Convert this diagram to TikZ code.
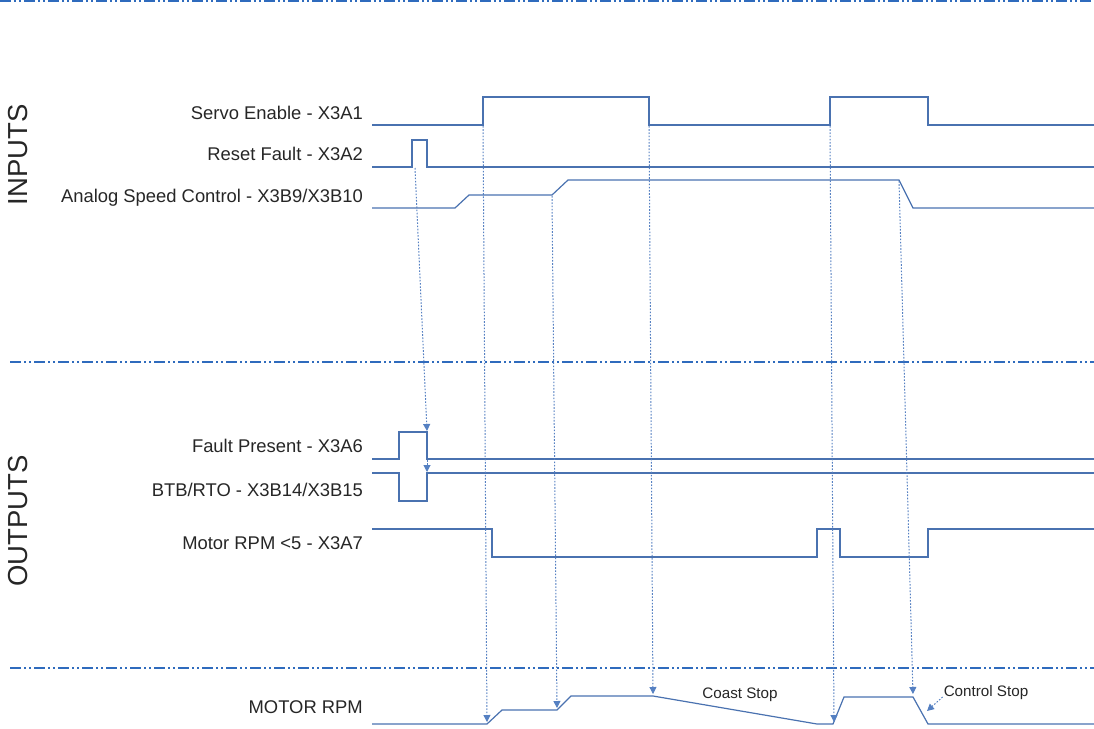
\documentclass[tikz,border=0pt]{standalone}
\usepackage{fontspec}
\setmainfont{Liberation Sans}
\usetikzlibrary{arrows.meta}
\definecolor{sig}{HTML}{4A72B0}
\definecolor{sep}{HTML}{2F6BBD}
\definecolor{dot}{HTML}{5580C2}
\tikzset{
  signal/.style={draw=sig, line width=1.2pt, line join=miter},
  sepline/.style={draw=sep, line width=1.3pt, dash pattern=on 11pt off 3pt on 2pt off 3pt on 2pt off 3pt},
  causal/.style={draw=dot, line width=1pt, dash pattern=on 1.6pt off 1.6pt, -{Triangle[width=7pt,length=7pt]}},
  lbl/.style={anchor=base east, inner sep=0pt, font=\fontsize{18.4}{22}\selectfont, text=black!85},
  grp/.style={rotate=90, inner sep=0pt, font=\fontsize{27.5}{32}\selectfont, text=black!85},
  note/.style={inner sep=0pt, font=\fontsize{15.2}{18}\selectfont, text=black!85},
}
\begin{document}
\begin{tikzpicture}[x=1pt,y=-1pt]
\useasboundingbox (0,0) rectangle (1094,728);
% separators
\draw[sepline] (0,1) -- (1094,1);
\draw[sepline] (10,362) -- (1094,362);
\draw[sepline] (10,668) -- (1094,668);
% group labels
\node[grp] (inputs) at (18,155) {INPUTS};
\node[grp] (outputs) at (18,521) {OUTPUTS};
% signal labels
\node[lbl] (lservo) at (363,119) {Servo Enable - X3A1};
\node[lbl] (lreset) at (363,160) {Reset Fault - X3A2};
\node[lbl] (lanalog) at (363,202) {Analog Speed Control - X3B9/X3B10};
\node[lbl] (lfault) at (363,452) {Fault Present - X3A6};
\node[lbl] (lbtb) at (363,496) {BTB/RTO - X3B14/X3B15};
\node[lbl] (lrpm5) at (363,549) {Motor RPM <5 - X3A7};
\node[lbl] (lrpm) at (363,713) {MOTOR RPM};
% waveforms
\draw[signal] (372,125) -- (483,125) -- (483,97) -- (649,97) -- (649,125) -- (830,125) -- (830,97) -- (928,97) -- (928,125) -- (1094,125);
\draw[signal] (372,167) -- (412,167) -- (412,140) -- (427,140) -- (427,167) -- (1094,167);
\draw[signal] (372,208) -- (455,208) -- (469,195) -- (552,195) -- (568,180) -- (899,180) -- (913,208) -- (1094,208);
\draw[signal] (372,459) -- (399,459) -- (399,432) -- (427,432) -- (427,459) -- (1094,459);
\draw[signal] (372,473) -- (399,473) -- (399,501) -- (427,501) -- (427,473) -- (1094,473);
\draw[signal] (372,529) -- (492,529) -- (492,557) -- (817,557) -- (817,529) -- (840,529) -- (840,557) -- (928,557) -- (928,529) -- (1094,529);
\draw[signal] (372,724) -- (487,724) -- (502,710) -- (557,710) -- (571,696) -- (653,696) -- (817,724) -- (833,724) -- (844,697) -- (913,697) -- (928,724) -- (1094,724);
% event coordinates
\coordinate (resetEdge) at (415,168);
\coordinate (faultHigh) at (427,431);
\coordinate (faultLow) at (427,460);
\coordinate (btbHigh) at (427,472);
\coordinate (servoOn1) at (483,126);
\coordinate (rpmUp1) at (487,722);
\coordinate (analogUp) at (552,196);
\coordinate (rpmUp2) at (557,708);
\coordinate (servoOff1) at (649,126);
\coordinate (rpmCoast) at (653,694);
\coordinate (servoOn2) at (830,126);
\coordinate (rpmUp3) at (834,722);
\coordinate (analogDown) at (899,181);
\coordinate (rpmCtrl) at (913,694);
\coordinate (ctrlSlope) at (927,711);
% causal arrows
\draw[causal] (resetEdge) -- (faultHigh);
\draw[causal] (faultLow) -- (btbHigh);
\draw[causal] (servoOn1) -- (rpmUp1);
\draw[causal] (analogUp) -- (rpmUp2);
\draw[causal] (servoOff1) -- (rpmCoast);
\draw[causal] (servoOn2) -- (rpmUp3);
\draw[causal] (analogDown) -- (rpmCtrl);
% notes
\node[note] (coast) at (740,695) {Coast Stop};
\node[note] (ctrl) at (986,693) {Control Stop};
\draw[causal] (ctrl.west) ++(-1,4) -- (ctrlSlope);
\end{tikzpicture}
\end{document}
